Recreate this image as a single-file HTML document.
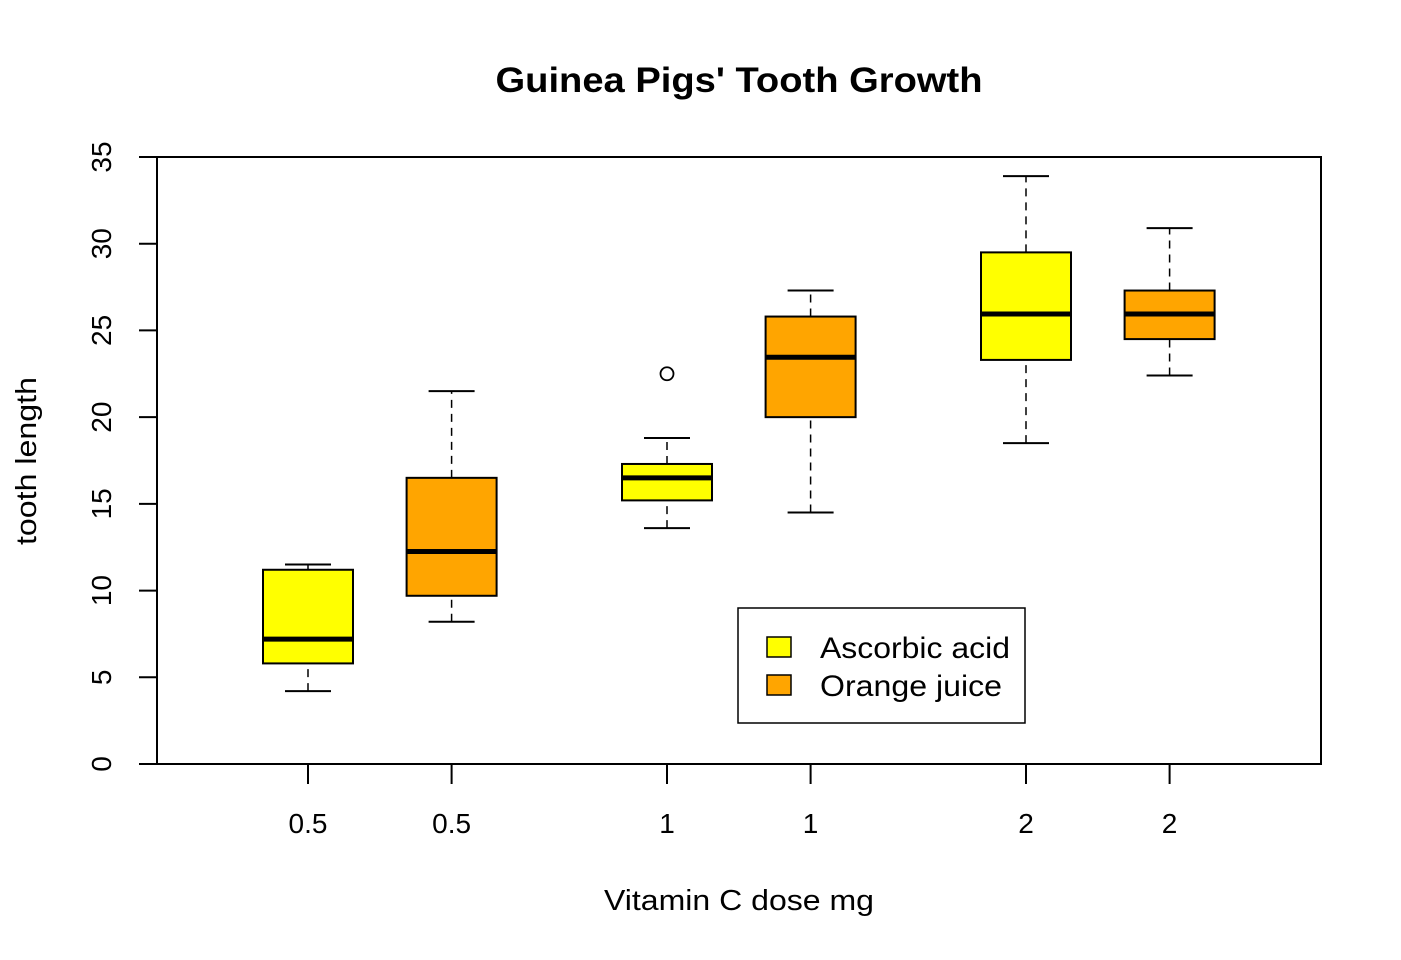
<!DOCTYPE html>
<html><head><meta charset="utf-8"><style>
html,body{margin:0;padding:0;background:#fff;}
svg{display:block;font-family:"Liberation Sans",Arial,sans-serif;}
</style></head><body>
<svg id="chart" width="1401" height="960" viewBox="0 0 1401 960">
<rect width="1401" height="960" fill="#fff"/>
<text x="739" y="92" text-anchor="middle" font-size="35" font-weight="bold" textLength="487" lengthAdjust="spacingAndGlyphs">Guinea Pigs' Tooth Growth</text>
<text x="739" y="910" text-anchor="middle" font-size="29" textLength="270" lengthAdjust="spacingAndGlyphs">Vitamin C dose mg</text>
<text transform="translate(36,461) rotate(-90)" text-anchor="middle" font-size="29" textLength="168" lengthAdjust="spacingAndGlyphs">tooth length</text>
<rect x="157" y="157" width="1164" height="607" fill="none" stroke="#000" stroke-width="2"/>
<g id="yaxis"></g>
<g id="xaxis"></g>
<g id="boxes"></g>
<g>
<rect x="738" y="608" width="287" height="115" fill="#fff" stroke="#000" stroke-width="1.5"/>
<rect x="767" y="637" width="24" height="20" fill="#ffff00" stroke="#000" stroke-width="1.5"/>
<text x="820" y="658" font-size="30" textLength="190" lengthAdjust="spacingAndGlyphs">Ascorbic acid</text>
<rect x="767" y="675" width="24" height="20" fill="#ffa500" stroke="#000" stroke-width="1.5"/>
<text x="820" y="696" font-size="30" textLength="182" lengthAdjust="spacingAndGlyphs">Orange juice</text>
</g>
</svg>
<script>
const categories = ["0.5","0.5","1","1","2","2"];
const positions = [0.8,1.2,1.8,2.2,2.8,3.2];
const supplements = ["VC","OJ","VC","OJ","VC","OJ"];
const whiskerLow = [4.2,8.2,13.6,14.5,18.5,22.4];
const q1 = [5.8,9.7,15.2,20.0,23.3,24.5];
const medians = [7.2,12.25,16.5,23.45,25.95,25.95];
const q3 = [11.2,16.5,17.3,25.8,29.5,27.3];
const whiskerHigh = [11.5,21.5,18.8,27.3,33.9,30.9];
const outliers = [[],[],[22.5],[],[],[]];
const yTicks = [0,5,10,15,20,25,30,35];

const NS="http://www.w3.org/2000/svg";
function y(v){return 764-(v-0)*(607/35);}
function x(p){return 308+(p-0.8)*359;}
function mk(parent,tag,attrs){const e=document.createElementNS(NS,tag);for(const k in attrs)e.setAttribute(k,attrs[k]);parent.appendChild(e);return e;}
const ya=document.getElementById('yaxis');
let ax=mk(ya,'line',{x1:157,x2:157,y1:y(0),y2:y(35),stroke:'#000','stroke-width':2});


yTicks.forEach(t=>{
  const l=mk(ya,'line',{x1:139,x2:157,y1:y(t),y2:y(t),stroke:'#000','stroke-width':2});
  
  
  const tx=mk(ya,'text',{transform:`translate(111,${y(t)}) rotate(-90)`,'text-anchor':'middle','font-size':28});
  tx.textContent=t;
  
  
});
const xa=document.getElementById('xaxis');
const bg=document.getElementById('boxes');
const hw=45, cw=23;
categories.forEach((c,i)=>{
  const cx=x(positions[i]);
  const tk=mk(xa,'line',{x1:cx,x2:cx,y1:764,y2:784,stroke:'#000','stroke-width':2});
  
  
  const tl=mk(xa,'text',{x:cx,y:833,'text-anchor':'middle','font-size':28});
  tl.textContent=c;
  
  
  const g=mk(bg,'g',{});
  
  
  const fill=supplements[i]==='VC'?'#ffff00':'#ffa500';
  mk(g,'line',{x1:cx,x2:cx,y1:y(whiskerLow[i]),y2:y(q1[i]),stroke:'#000','stroke-width':1.5,'stroke-dasharray':'8,6'});
  mk(g,'line',{x1:cx,x2:cx,y1:y(q3[i]),y2:y(whiskerHigh[i]),stroke:'#000','stroke-width':1.5,'stroke-dasharray':'8,6'});
  mk(g,'line',{x1:cx-cw,x2:cx+cw,y1:y(whiskerLow[i]),y2:y(whiskerLow[i]),stroke:'#000','stroke-width':2});
  mk(g,'line',{x1:cx-cw,x2:cx+cw,y1:y(whiskerHigh[i]),y2:y(whiskerHigh[i]),stroke:'#000','stroke-width':2});
  mk(g,'rect',{x:cx-hw,y:y(q3[i]),width:2*hw,height:y(q1[i])-y(q3[i]),fill:fill,stroke:'#000','stroke-width':2});
  mk(g,'line',{x1:cx-hw,x2:cx+hw,y1:y(medians[i]),y2:y(medians[i]),stroke:'#000','stroke-width':5});
  outliers[i].forEach(o=>{
    const ci=mk(g,'circle',{cx:cx,cy:y(o),r:6.5,fill:'none',stroke:'#000','stroke-width':1.8});
    
    
  });
});
</script>
</body></html>
